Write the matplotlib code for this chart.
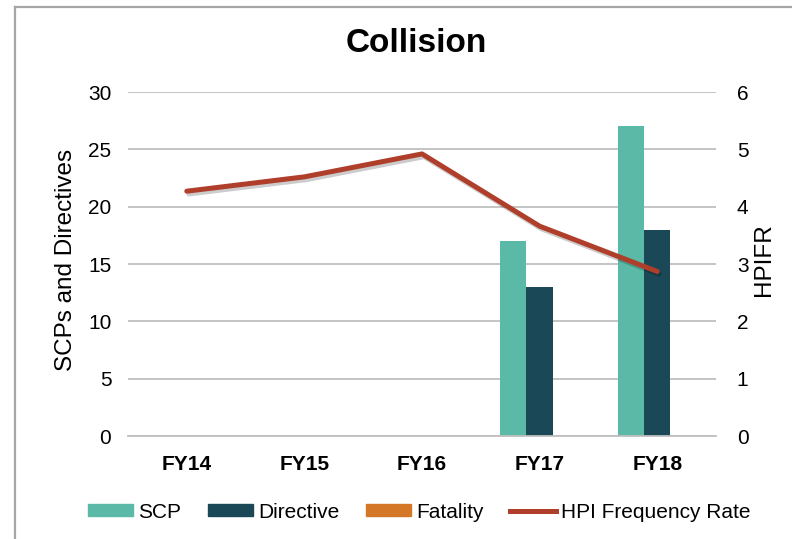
import numpy as np
import matplotlib.pyplot as plt
import matplotlib.patheffects as pe
from matplotlib.lines import Line2D
from matplotlib.patches import Patch

plt.rcParams['font.family'] = ['Liberation Sans', 'DejaVu Sans']

years = ['FY14', 'FY15', 'FY16', 'FY17', 'FY18']
scp = [0, 0, 0, 17, 27]
directive = [0, 0, 0, 13, 18]
fatality = [0, 0, 0, 0, 0]
hpifr = [4.27, 4.52, 4.92, 3.66, 2.87]

c_scp = '#5BBAA7'
c_dir = '#1B4856'
c_fat = '#D47828'
c_line = '#AF3E2A'

W, H = 792, 539
fig = plt.figure(figsize=(W/100, H/100), dpi=100)
ax = fig.add_axes([128/W, 1 - 436/H, 588/W, 344/H])
ax2 = ax.twinx()

x = np.arange(len(years))
w = 0.225
ax.bar(x - w, scp, w, color=c_scp, zorder=2)
ax.bar(x, directive, w, color=c_dir, zorder=2)
ax.bar(x + w, fatality, w, color=c_fat, zorder=2)

ax2.plot(x, hpifr, color=c_line, lw=3.6, solid_capstyle='round', zorder=3,
         path_effects=[pe.SimpleLineShadow(offset=(1.5, -2), alpha=0.2, shadow_color='k'), pe.Normal()])

ax.set_xlim(-0.5, 4.5)
ax.set_ylim(0, 30)
ax2.set_ylim(0, 6)
ax.set_yticks(range(0, 31, 5))
ax2.set_yticks(range(0, 7))
ax.set_xticks(x)
ax.set_xticklabels(years, fontsize=16.5, fontweight='bold')
ax.yaxis.grid(True, color='#BFBFBF', lw=1.3, zorder=0)
ax.set_axisbelow(True)

for a in (ax, ax2):
    for s in a.spines.values():
        s.set_visible(False)
    a.tick_params(length=0, labelsize=15)
ax.spines['bottom'].set_visible(True)
ax.spines['bottom'].set_color('#BFBFBF')
ax.spines['bottom'].set_linewidth(1.3)
ax.tick_params(axis='y', pad=12)
ax.tick_params(axis='x', pad=14)
ax2.tick_params(axis='y', pad=15)

# axis titles
fig.text(66/W, 1 - 260/H, 'SCPs and Directives', fontsize=17.5, rotation=90, ha='center', va='center')
fig.text(764/W, 1 - 260/H, 'HPIFR', fontsize=17.5, rotation=90, ha='center', va='center')
fig.text(416/W, 1 - 44/H, 'Collision', fontsize=24, fontweight='bold', ha='center', va='center')

handles = [Patch(color=c_scp), Patch(color=c_dir), Patch(color=c_fat),
           Line2D([], [], color=c_line, lw=3.6)]
fig.legend(handles, ['SCP', 'Directive', 'Fatality', 'HPI Frequency Rate'],
           loc='center', bbox_to_anchor=(419/W, 1 - 512/H), ncol=4, frameon=False,
           fontsize=15, handlelength=2.2, handleheight=0.48, handletextpad=0.24,
           columnspacing=1.25, borderpad=0, borderaxespad=0)

# chart box border
fig.add_artist(Line2D([15/W, 15/W], [0, 1 - 7/H], color='#A6A6A6', lw=1.6))
fig.add_artist(Line2D([15/W, 1], [1 - 7/H, 1 - 7/H], color='#A6A6A6', lw=1.6))

fig.savefig('out.png', dpi=100)
